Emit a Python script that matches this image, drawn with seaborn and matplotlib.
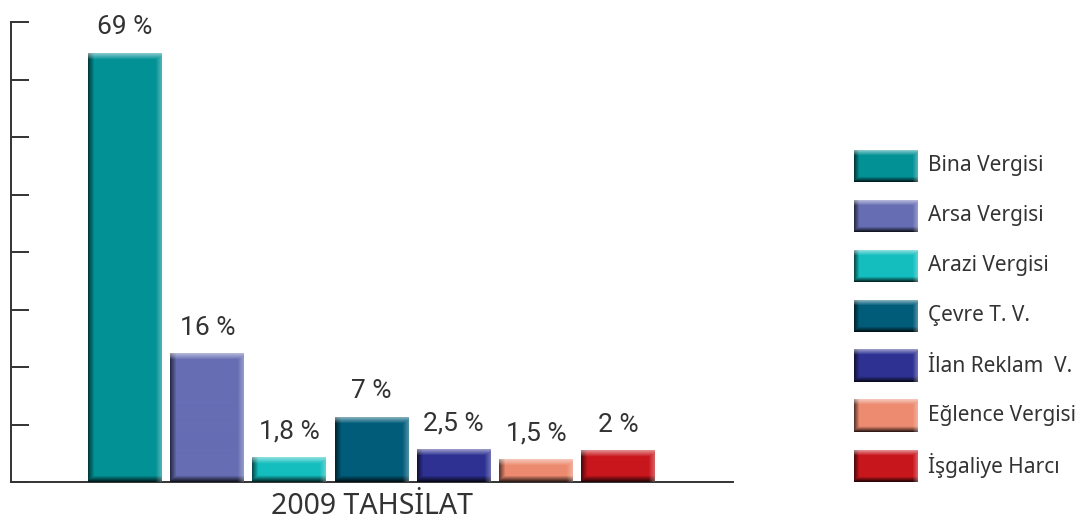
import numpy as np
import matplotlib
matplotlib.use("Agg")
import matplotlib.pyplot as plt
import matplotlib.colors as mcolors
import seaborn as sns

categories = ["Bina Vergisi", "Arsa Vergisi", "Arazi Vergisi", "Çevre T. V.",
              "İlan Reklam  V.", "Eğlence Vergisi", "İşgaliye Harcı"]
share_labels = ["69 %", "16 %", "1,8 %", "7 %", "2,5 %", "1,5 %", "2 %"]
# bar heights as drawn in the picture, in units of the (unlabelled) axis ticks
bar_heights = [7.46, 2.23, 0.42, 1.13, 0.57, 0.40, 0.54]
colors = ["#029296", "#666db3", "#14bebe", "#005c79", "#2e3192", "#ec8b70", "#c8161d"]
title = "2009 TAHSİLAT"

sns.set_style("white")
plt.rcParams["font.family"] = ["Noto Sans", "DejaVu Sans"]


def bevel(color, w, h, e=6):
    # rgb image of a bar with a light top/right edge and dark bottom/left edge
    w, h = max(int(round(w)), 2), max(int(round(h)), 2)
    base = np.array(mcolors.to_rgb(color))
    img = np.tile(base, (h, w, 1))
    x = np.arange(w)
    y = np.arange(h)
    left = np.clip(1 - x / e, 0, 1)
    right = np.clip(1 - (w - 1 - x) / e, 0, 1)
    top = np.clip(1 - y / e, 0, 1)
    bot = np.clip(1 - (h - 1 - y) / e, 0, 1)
    dark = np.maximum(left[None, :] * 0.6, bot[:, None] * 0.8)
    light = np.maximum(right[None, :] * 0.3, top[:, None] * 0.5)
    img = img * (1 - dark[..., None])
    img = img + (1 - img) * light[..., None]
    return img


fig = plt.figure(figsize=(10.84, 5.2), dpi=100)
ax = fig.add_axes([11 / 1084, 38 / 520, 722 / 1084, 460 / 520])

sns.barplot(x=categories, y=bar_heights, hue=categories, palette=colors,
            width=0.9, legend=False, ax=ax)
ax.set_xlim(-1.39, 7.40)
ax.set_ylim(0, 8)

fig.canvas.draw()
for patch, color, lab in zip(ax.patches, colors, share_labels):
    x0, y0 = patch.get_x(), patch.get_y()
    w, h = patch.get_width(), patch.get_height()
    p0 = ax.transData.transform((x0, y0))
    p1 = ax.transData.transform((x0 + w, y0 + h))
    img = bevel(color, p1[0] - p0[0], p1[1] - p0[1])
    ax.imshow(img, extent=(x0, x0 + w, y0, y0 + h), aspect="auto", zorder=3,
              interpolation="bilinear")
    patch.set_visible(False)
    ax.annotate(lab, (x0 + w / 2, y0 + h), xytext=(0, 10), textcoords="offset points",
                ha="center", va="bottom", fontsize=19, color="#333333",
                family=["Roboto", "DejaVu Sans"])

ax.set_xlim(-1.39, 7.40)
ax.set_ylim(0, 8)
ax.set_yticks(range(0, 9))
ax.set_yticklabels([])
ax.set_xticks([])
ax.tick_params(axis="y", direction="in", length=13, width=1.4, color="#333333", left=True)
for side in ["top", "right"]:
    ax.spines[side].set_visible(False)
for side in ["left", "bottom"]:
    ax.spines[side].set_color("#333333")
    ax.spines[side].set_linewidth(1.4)
ax.set_xlabel(title, fontsize=20.5, color="#333333", labelpad=7)

# legend drawn with the same bevelled swatches
lax = fig.add_axes([854 / 1084, (520 - 491) / 520, 230 / 1084, 350 / 520])
lax.set_xlim(0, 230)
lax.set_ylim(len(categories), 0)
lax.axis("off")
for i, (cat, color) in enumerate(zip(categories, colors)):
    lax.imshow(bevel(color, 64, 32, e=5), extent=(0, 64, i + 0.82, i + 0.18),
               aspect="auto", interpolation="bilinear")
    lax.text(74, i + 0.5, cat, fontsize=15, color="#333333", va="center", ha="left")
lax.set_xlim(0, 230)
lax.set_ylim(len(categories), 0)

fig.savefig("out.png", dpi=100)
